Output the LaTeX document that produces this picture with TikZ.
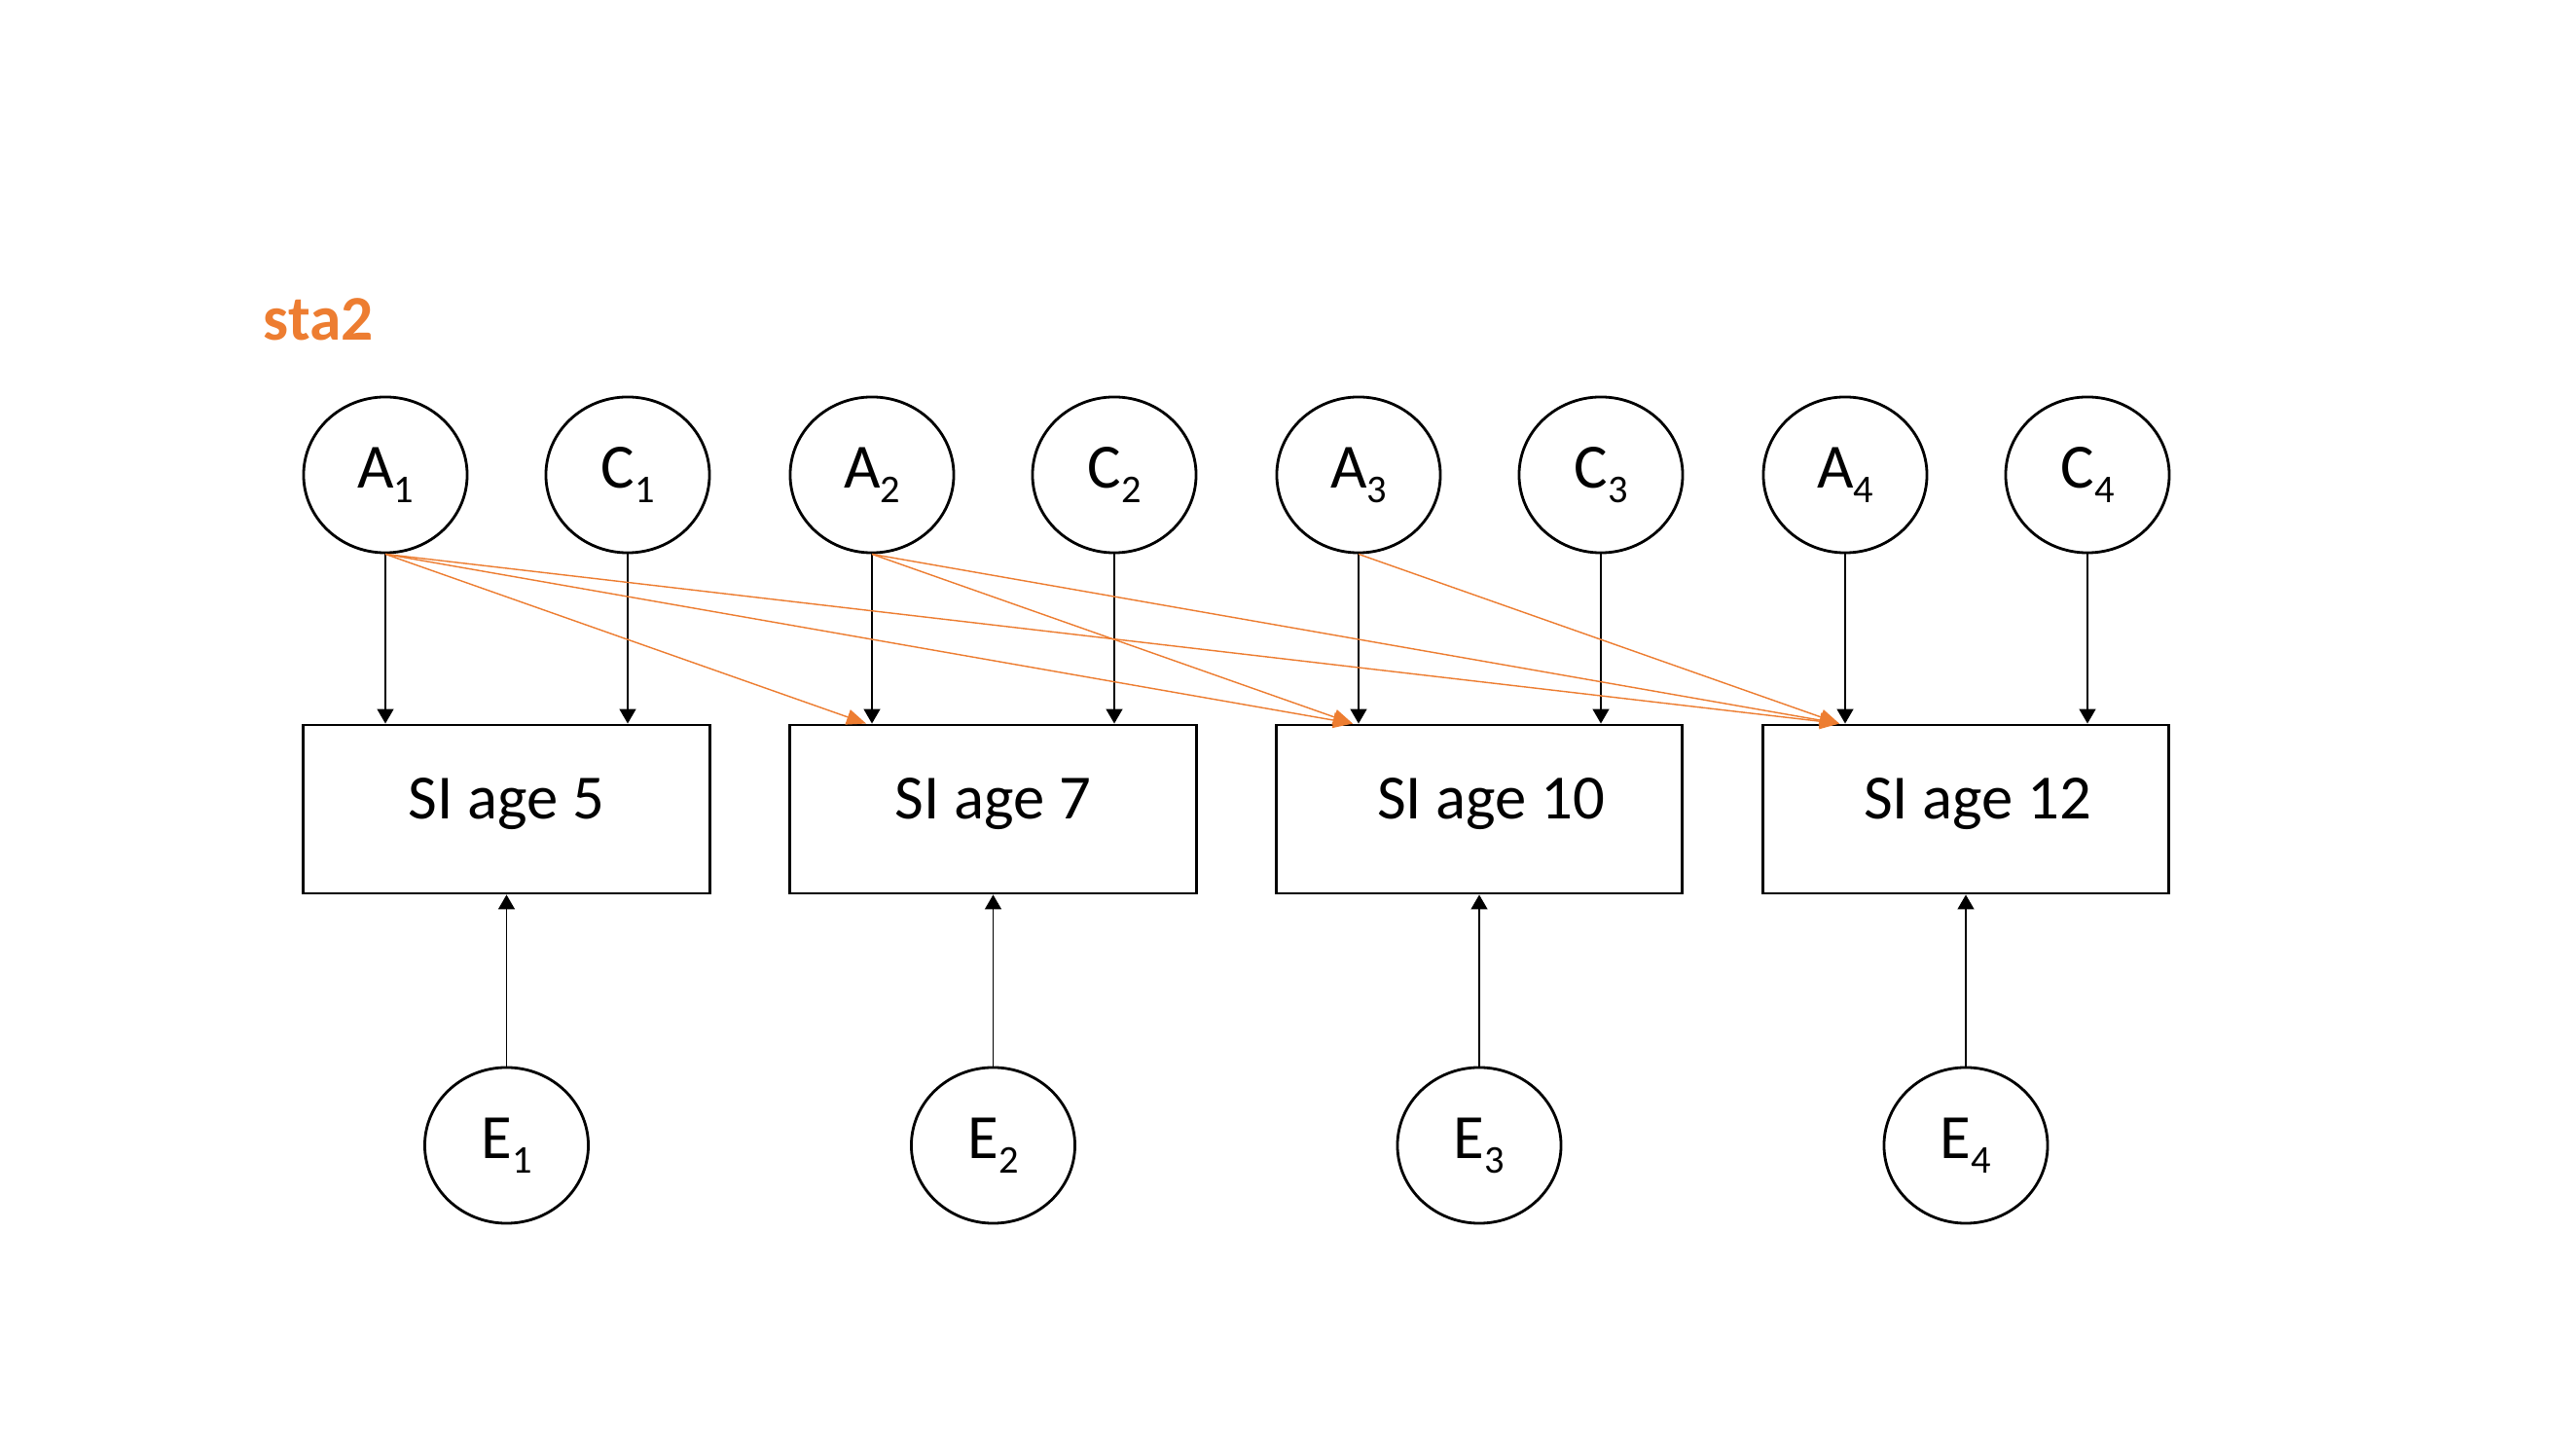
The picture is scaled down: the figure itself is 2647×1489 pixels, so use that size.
\documentclass[tikz,border=0pt]{standalone}
\usepackage{fontspec}
\setmainfont{Carlito}
\usetikzlibrary{arrows.meta,shapes.geometric,calc}
\definecolor{orng}{RGB}{237,125,49}
\newcommand{\sbs}[1]{\raisebox{-0.15cm}{\fontsize{11.5}{12}\selectfont #1}}
\begin{document}
\begin{tikzpicture}[x=0.01cm,y=-0.01cm,
  latent/.style={ellipse, draw, line width=0.8pt, minimum width=1.68cm, minimum height=1.6cm, inner sep=0pt, font=\fontsize{18.4}{22}\selectfont},
  obs/.style={rectangle, draw, line width=0.8pt, minimum width=4.17cm, minimum height=1.73cm, inner sep=0pt, text height=0.45cm, text depth=0.25cm, font=\fontsize{18.4}{22}\selectfont},
  blk/.style={line width=0.45pt, -{Triangle[length=0.15cm,width=0.17cm]}},
  cross/.style={draw=orng, line width=0.4pt, -{Triangle[length=0.2cm,width=0.16cm]}, fill=orng}]
\fill[white] (0,0) rectangle (2647,1489);
\useasboundingbox (0,0) rectangle (2647,1489);
\node[anchor=base west, text=orng, font=\bfseries\fontsize{18.6}{22}\selectfont, inner sep=0pt] (title) at (270,350) {sta2};
% latent A and C
\node[latent] (A1) at (396,488) {A\sbs{1}};
\node[latent] (C1) at (645,488) {C\sbs{1}};
\node[latent] (A2) at (896,488) {A\sbs{2}};
\node[latent] (C2) at (1145,488) {C\sbs{2}};
\node[latent] (A3) at (1396,488) {A\sbs{3}};
\node[latent] (C3) at (1645,488) {C\sbs{3}};
\node[latent] (A4) at (1896,488) {A\sbs{4}};
\node[latent] (C4) at (2145,488) {C\sbs{4}};
% observed boxes
\node[obs] (B1) at (520.5,831.5) {SI age 5\hspace{0.08cm}};
\node[obs] (B2) at (1020.5,831.5) {SI age 7\hspace{0.08cm}};
\node[obs] (B3) at (1520,831.5) {\hspace{0.24cm}SI age 10};
\node[obs] (B4) at (2020,831.5) {\hspace{0.24cm}SI age 12};
% E
\node[latent] (E1) at (520.5,1177) {E\sbs{1}};
\node[latent] (E2) at (1020.5,1177) {E\sbs{2}};
\node[latent] (E3) at (1520,1177) {E\sbs{3}};
\node[latent] (E4) at (2020,1177) {E\sbs{4}};
% targets for cross-lagged arrows
\coordinate (t2) at ($(A2.south |- B2.north)+(-6,0)$);
\coordinate (t3) at ($(A3.south |- B3.north)+(-6,0)$);
\coordinate (t4) at ($(A4.south |- B4.north)+(-6,0)$);
% vertical paths
\foreach \i in {1,2,3,4}{
  \draw[blk] (A\i.south) -- (A\i.south |- B\i.north);
  \draw[blk] (C\i.south) -- (C\i.south |- B\i.north);
  \draw[blk] (E\i.north) -- (B\i.south);
}
% cross paths
\draw[cross] (A1.south) -- (t2);
\draw[cross] (A1.south) -- (t3);
\draw[cross] (A1.south) -- (t4);
\draw[cross] (A2.south) -- (t3);
\draw[cross] (A2.south) -- (t4);
\draw[cross] (A3.south) -- (t4);
\end{tikzpicture}
\end{document}
